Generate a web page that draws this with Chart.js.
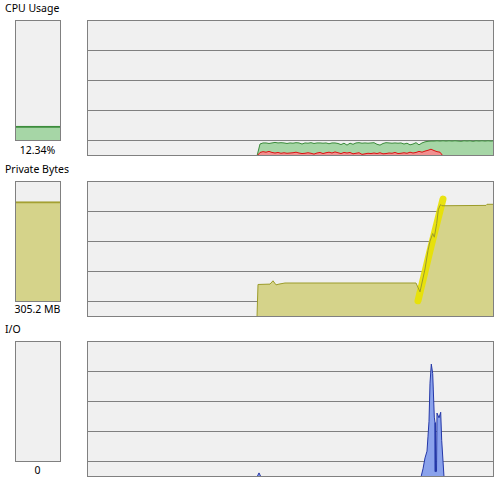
<!DOCTYPE html>
<html><head><meta charset="utf-8">
<script src="https://cdn.jsdelivr.net/npm/chart.js@4/dist/chart.umd.min.js"></script>
<style>
html,body{margin:0;padding:0;background:#fff;width:499px;height:484px;overflow:hidden;font-family:"Noto Sans",sans-serif;font-size:10.5px;color:#000}
canvas{position:absolute}
.t{position:absolute;left:5px;line-height:14px;white-space:nowrap}
.v{position:absolute;left:0;width:75px;text-align:center;line-height:14px;white-space:nowrap}
</style></head><body>
<div class="t" style="top:1px" id="t0"></div>
<div class="t" style="top:162px" id="t1"></div>
<div class="t" style="top:322px" id="t2"></div>
<div class="v" style="top:143px" id="v0"></div>
<div class="v" style="top:302px" id="v1"></div>
<div class="v" style="top:463px" id="v2"></div>
<canvas id="s0" width="46" height="121" style="left:15px;top:20px"></canvas>
<canvas id="s1" width="46" height="121" style="left:15px;top:181px"></canvas>
<canvas id="s2" width="46" height="121" style="left:15px;top:341px"></canvas>
<canvas id="b0" width="407" height="136" style="left:87px;top:20px"></canvas>
<canvas id="b1" width="407" height="136" style="left:87px;top:181px"></canvas>
<canvas id="b2" width="407" height="136" style="left:87px;top:341px"></canvas>
<script>
// ---- data ----
const panelTitles = ['CPU Usage', 'Private Bytes', 'I/O'];
const currentLabels = ['12.34%', '305.2 MB', '0'];
const currentValues = [12.34, 305.2, 0];
const scaleMax = [100, 368, 100];

// CPU history (percent), one sample every 3 time units starting at 170
const cpuStart = 170, cpuStep = 3;
const cpuTotal = [0, 8.8, 9.6, 9.6, 9.2, 9.6, 10.0, 9.6, 9.8, 9.6,
  9.2, 9.6, 9.4, 9.8, 9.6, 8.8, 9.6, 9.4, 9.8, 9.2,
  9.6, 9.6, 9.4, 9.6, 9.0, 9.6, 9.6, 9.2, 8.4, 9.4,
  8.0, 9.4, 8.6, 9.6, 9.8, 9.4, 9.6, 9.4, 9.6, 9.8,
  8.6, 8.0, 9.2, 9.8, 9.6, 9.4, 9.6, 9.4, 9.6, 8.8,
  9.4, 8.2, 8.8, 9.8, 8.2, 9.6, 10.4, 10.8, 11.0, 11.0,
  11.2, 11.0, 11.2, 11.0, 11.2, 11.0, 11.2, 11.0, 10.8, 11.2,
  11.0, 11.2, 10.8, 11.2, 11.0, 11.2, 11.0, 11.2, 11.0, 11.2];
const cpuKernel = [0, 2.6, 3.2, 2.8, 3.4, 2.6, 2.2, 2.6, 2.0, 2.4,
  2.0, 2.2, 2.4, 2.8, 2.2, 1.8, 2.0, 2.4, 2.0, 1.4,
  2.2, 2.6, 1.8, 2.4, 2.8, 2.2, 3.0, 2.4, 1.8, 2.6,
  2.2, 2.6, 1.6, 2.0, 2.4, 1.2, 1.6, 2.0, 1.8, 2.2,
  1.8, 2.4, 1.6, 1.8, 2.2, 2.0, 2.6, 1.8, 2.0, 2.4,
  2.0, 2.8, 2.2, 2.6, 3.4, 2.8, 3.6, 4.2, 5.0, 4.0,
  3.2, 2.8, 0, 0, 0, 0, 0, 0, 0, 0,
  0, 0, 0, 0, 0, 0, 0, 0, 0, 0];

// Private bytes history (MB)
const pbTime   = [170, 171, 183, 186, 189, 192, 198, 329, 333, 338, 341, 343, 345.7, 347.3, 349.7, 351.3, 353, 354, 355, 399, 400, 407];
const pbValues = [0,   88,  89,  98,  87,  89,  92,  92,  68,  130, 180, 205, 226,   216,   253,   290,   302, 304, 301, 302, 305, 305];
// highlighted segment
const hlTime   = [331, 344, 356];
const hlValues = [44, 190, 319];

// I/O history (percent of scale)
const ioTime   = [170, 172, 174, 334, 336, 338, 340, 341, 342, 343, 344.3, 345.7, 346.3, 347.3, 348, 348.3, 349.5, 350, 352, 353.7, 354.7, 357];
const ioValues = [0,   3,   0,   0,   6,   14,  19,  30,  41,  69,  83,    76,    64,    44,    40,  4,     4,     47,  43.5, 47.6, 27,   0];

// ---- drawing ----
const panelPlugin = {
  id: 'panel',
  beforeDraw(c) {
    const a = c.chartArea, x = c.ctx;
    x.save(); x.fillStyle = '#f0f0f0';
    x.fillRect(a.left, a.top, a.right - a.left, a.bottom - a.top); x.restore();
  },
  afterDraw(c) {
    const a = c.chartArea, x = c.ctx;
    x.save(); x.strokeStyle = '#808080'; x.lineWidth = 1;
    x.strokeRect(a.left + 0.5, a.top + 0.5, a.right - a.left - 1, a.bottom - a.top - 1); x.restore();
  }
};

const base = {
  responsive: false, animation: false, devicePixelRatio: 1,
  layout: { padding: 0 },
  plugins: { legend: { display: false }, tooltip: { enabled: false } },
  elements: { point: { radius: 0 }, line: { tension: 0 } }
};

function smallChart(id, value, max, fillCol, lineCol) {
  new Chart(document.getElementById(id), {
    type: 'bar',
    data: { labels: [''], datasets: [{ data: [value], backgroundColor: fillCol, borderColor: lineCol,
      borderWidth: { top: value > 0 ? 2 : 0, left: 0, right: 0, bottom: 0 }, borderSkipped: false,
      barPercentage: 1, categoryPercentage: 1 }] },
    options: Object.assign({}, base, {
      scales: { x: { display: false }, y: { display: false, min: 0, max } }
    }),
    plugins: [panelPlugin]
  });
}

function bigChart(id, datasets, max) {
  new Chart(document.getElementById(id), {
    type: 'line',
    data: { datasets },
    options: Object.assign({}, base, {
      scales: {
        x: { type: 'linear', min: 0, max: 407, display: false },
        y: { min: 0, max, display: true, ticks: { display: false }, border: { display: false },
             grid: { color: '#808080', drawTicks: false, lineWidth: 1 },
             afterBuildTicks(s) { const h = 136; s.ticks = [30, 60, 90, 120].map(p => ({ value: max * (1 - p / h) })); } }
      }
    }),
    plugins: [panelPlugin]
  });
}

const pts = (t, v) => v.map((y, i) => ({ x: t[i], y }));
const cpuT = cpuTotal.map((_, i) => cpuStart + i * cpuStep);

panelTitles.forEach((s, i) => document.getElementById('t' + i).textContent = s);
currentLabels.forEach((s, i) => document.getElementById('v' + i).textContent = s);

smallChart('s0', currentValues[0], scaleMax[0], '#a6d6a6', '#3c8c3c');
smallChart('s1', currentValues[1], scaleMax[1], '#d5d38a', '#a4a032');
smallChart('s2', currentValues[2], scaleMax[2], '#8aa2ec', '#2437a8');

bigChart('b0', [
  { data: pts(cpuT, cpuTotal), borderColor: '#3a8a3a', backgroundColor: '#a6d6a6', fill: 'origin', borderWidth: 1, order: 2 },
  { data: pts(cpuT, cpuKernel), borderColor: '#dd1111', backgroundColor: '#f09090', fill: 'origin', borderWidth: 1, order: 1 }
], scaleMax[0]);

bigChart('b1', [
  { data: pts(pbTime, pbValues), borderWidth: 0, borderColor: 'rgba(0,0,0,0)', backgroundColor: '#d5d38a', fill: 'origin', order: 3 },
  { data: pts(hlTime, hlValues), borderColor: 'rgba(232,226,0,0.92)', borderWidth: 7, borderCapStyle: 'round', borderJoinStyle: 'round', fill: false, order: 2 },
  { data: pts(pbTime, pbValues), borderColor: '#9c9c2a', borderWidth: 1, fill: false, order: 1 }
], scaleMax[1]);

bigChart('b2', [
  { data: pts(ioTime, ioValues), borderColor: '#2437a8', backgroundColor: '#8aa2ec', fill: 'origin', borderWidth: 1 }
], scaleMax[2]);
</script>
</body></html>
